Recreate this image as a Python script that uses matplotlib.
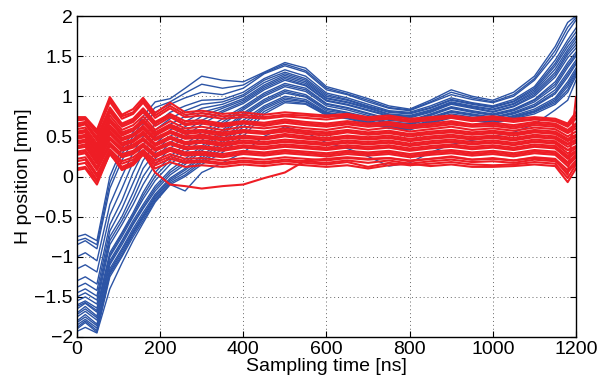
import numpy as np
import matplotlib
matplotlib.use('Agg')
import matplotlib.pyplot as plt

# sampling instants [ns]
t_ns = [0, 20, 48, 79, 108, 135, 159, 188, 224, 260, 300, 350, 400, 450, 500,
        550, 600, 650, 700, 750, 800, 850, 900, 950, 1000, 1050, 1100, 1150, 1180, 1200]

# blue traces (H position [mm])
blue_traces = [
    [-0.75, -0.72, -0.80, 0.00, 0.35, 0.55, 0.75, 0.93, 0.97, 1.10, 1.25, 1.20, 1.18, 1.30, 1.42, 1.35, 1.12, 1.05, 0.97, 0.88, 0.84, 0.95, 1.08, 1.00, 0.95, 1.05, 1.25, 1.62, 1.92, 2.00],
    [-0.80, -0.77, -0.85, -0.08, 0.28, 0.50, 0.70, 0.86, 0.93, 1.04, 1.15, 1.10, 1.14, 1.29, 1.40, 1.32, 1.10, 1.03, 0.95, 0.86, 0.83, 0.93, 1.05, 0.98, 0.93, 1.02, 1.22, 1.57, 1.86, 1.98],
    [-0.85, -0.80, -0.90, -0.15, 0.20, 0.45, 0.65, 0.80, 0.90, 0.98, 1.05, 1.02, 1.10, 1.28, 1.38, 1.30, 1.08, 1.02, 0.93, 0.85, 0.82, 0.92, 1.02, 0.96, 0.92, 1.00, 1.20, 1.52, 1.80, 1.95],
    [-1.00, -0.95, -1.05, -0.35, 0.00, 0.30, 0.50, 0.65, 0.80, 0.88, 0.95, 0.96, 1.05, 1.22, 1.33, 1.25, 1.04, 0.98, 0.90, 0.82, 0.80, 0.88, 0.98, 0.92, 0.88, 0.96, 1.12, 1.45, 1.70, 1.85],
    [-1.15, -1.10, -1.19, -0.48, -0.15, 0.18, 0.40, 0.58, 0.72, 0.82, 0.90, 0.93, 1.02, 1.20, 1.30, 1.22, 1.02, 0.96, 0.88, 0.81, 0.79, 0.86, 0.96, 0.91, 0.87, 0.94, 1.10, 1.41, 1.66, 1.80],
    [-1.30, -1.25, -1.34, -0.60, -0.30, 0.05, 0.30, 0.50, 0.65, 0.75, 0.85, 0.90, 1.00, 1.17, 1.28, 1.20, 1.00, 0.95, 0.87, 0.80, 0.78, 0.85, 0.95, 0.90, 0.86, 0.93, 1.08, 1.38, 1.62, 1.75],
    [-1.38, -1.33, -1.42, -0.68, -0.40, -0.08, 0.20, 0.40, 0.58, 0.68, 0.80, 0.87, 0.97, 1.14, 1.26, 1.18, 0.98, 0.93, 0.86, 0.78, 0.76, 0.83, 0.93, 0.88, 0.84, 0.91, 1.06, 1.34, 1.58, 1.72],
    [-1.45, -1.40, -1.49, -0.75, -0.50, -0.20, 0.10, 0.30, 0.50, 0.62, 0.75, 0.85, 0.95, 1.12, 1.24, 1.16, 0.97, 0.92, 0.85, 0.77, 0.75, 0.82, 0.92, 0.87, 0.83, 0.90, 1.04, 1.30, 1.55, 1.68],
    [-1.50, -1.45, -1.54, -0.80, -0.55, -0.28, 0.00, 0.22, 0.42, 0.56, 0.70, 0.82, 0.93, 1.10, 1.22, 1.14, 0.95, 0.90, 0.83, 0.76, 0.74, 0.81, 0.91, 0.86, 0.81, 0.88, 1.02, 1.27, 1.52, 1.64],
    [-1.55, -1.50, -1.59, -0.85, -0.60, -0.35, -0.10, 0.15, 0.35, 0.50, 0.65, 0.80, 0.91, 1.08, 1.20, 1.13, 0.94, 0.89, 0.82, 0.75, 0.73, 0.80, 0.90, 0.85, 0.80, 0.87, 1.00, 1.24, 1.48, 1.60],
    [-1.60, -1.55, -1.64, -0.95, -0.70, -0.45, -0.20, 0.05, 0.25, 0.40, 0.55, 0.72, 0.87, 1.04, 1.16, 1.10, 0.91, 0.86, 0.79, 0.72, 0.70, 0.78, 0.87, 0.82, 0.78, 0.84, 0.96, 1.18, 1.42, 1.55],
    [-1.62, -1.57, -1.67, -0.98, -0.72, -0.48, -0.24, 0.00, 0.20, 0.35, 0.50, 0.68, 0.85, 1.02, 1.14, 1.08, 0.90, 0.85, 0.78, 0.71, 0.69, 0.77, 0.86, 0.81, 0.77, 0.83, 0.95, 1.15, 1.39, 1.52],
    [-1.65, -1.58, -1.69, -1.00, -0.75, -0.50, -0.28, -0.05, 0.15, 0.30, 0.45, 0.65, 0.83, 1.00, 1.12, 1.06, 0.88, 0.83, 0.76, 0.70, 0.68, 0.76, 0.85, 0.80, 0.76, 0.82, 0.93, 1.12, 1.36, 1.50],
    [-1.70, -1.62, -1.74, -1.05, -0.80, -0.55, -0.35, -0.12, 0.08, 0.22, 0.38, 0.58, 0.79, 0.96, 1.08, 1.02, 0.85, 0.80, 0.74, 0.68, 0.66, 0.74, 0.82, 0.78, 0.74, 0.80, 0.90, 1.08, 1.30, 1.45],
    [-1.72, -1.65, -1.76, -1.08, -0.82, -0.58, -0.38, -0.15, 0.05, 0.18, 0.35, 0.55, 0.77, 0.94, 1.06, 1.00, 0.84, 0.79, 0.73, 0.67, 0.65, 0.73, 0.81, 0.77, 0.73, 0.79, 0.88, 1.05, 1.27, 1.42],
    [-1.75, -1.68, -1.79, -1.10, -0.85, -0.60, -0.40, -0.18, 0.02, 0.15, 0.32, 0.52, 0.75, 0.92, 1.04, 0.99, 0.82, 0.78, 0.72, 0.66, 0.64, 0.72, 0.80, 0.76, 0.72, 0.78, 0.87, 1.03, 1.24, 1.40],
    [-1.80, -1.72, -1.84, -1.15, -0.90, -0.65, -0.45, -0.22, -0.02, 0.10, 0.26, 0.45, 0.70, 0.88, 1.00, 0.96, 0.80, 0.76, 0.70, 0.64, 0.62, 0.70, 0.78, 0.74, 0.70, 0.76, 0.84, 0.98, 1.18, 1.35],
    [-1.82, -1.75, -1.86, -1.18, -0.92, -0.68, -0.48, -0.24, -0.04, 0.08, 0.23, 0.42, 0.66, 0.86, 0.98, 0.94, 0.79, 0.75, 0.69, 0.63, 0.61, 0.69, 0.76, 0.73, 0.69, 0.75, 0.82, 0.96, 1.15, 1.32],
    [-1.85, -1.78, -1.89, -1.20, -0.95, -0.70, -0.50, -0.26, -0.06, 0.05, 0.20, 0.38, 0.62, 0.84, 0.96, 0.93, 0.78, 0.74, 0.68, 0.62, 0.60, 0.68, 0.75, 0.72, 0.68, 0.74, 0.81, 0.94, 1.12, 1.30],
    [-1.88, -1.80, -1.92, -1.22, -0.98, -0.72, -0.52, -0.28, -0.08, 0.02, 0.18, 0.34, 0.56, 0.81, 0.94, 0.91, 0.77, 0.73, 0.67, 0.61, 0.59, 0.67, 0.74, 0.71, 0.67, 0.73, 0.80, 0.92, 1.08, 1.28],
    [-1.90, -1.82, -1.94, -1.25, -1.00, -0.75, -0.55, -0.30, -0.10, 0.00, 0.15, 0.30, 0.50, 0.78, 0.92, 0.90, 0.76, 0.72, 0.66, 0.60, 0.58, 0.66, 0.73, 0.70, 0.66, 0.72, 0.78, 0.90, 1.05, 1.25],
    [-1.93, -1.88, -1.95, -1.40, -1.08, -0.80, -0.58, -0.32, -0.10, -0.18, 0.05, 0.17, 0.30, 0.50, 0.62, 0.55, 0.42, 0.35, 0.25, 0.13, 0.17, 0.30, 0.40, 0.45, 0.50, 0.55, 0.65, 0.83, 0.95, 1.20],
]

# red traces (H position [mm])
red_traces = [
    [0.74, 0.74, 0.58, 0.99, 0.77, 0.84, 0.98, 0.79, 0.92, 0.80, 0.82, 0.78, 0.80, 0.77, 0.80, 0.78, 0.76, 0.78, 0.74, 0.76, 0.72, 0.74, 0.76, 0.73, 0.75, 0.72, 0.74, 0.72, 0.66, 0.80],
    [0.72, 0.73, 0.56, 0.96, 0.75, 0.80, 0.95, 0.76, 0.88, 0.77, 0.79, 0.75, 0.77, 0.74, 0.77, 0.76, 0.74, 0.76, 0.72, 0.74, 0.70, 0.72, 0.75, 0.71, 0.73, 0.70, 0.72, 0.70, 0.64, 0.76],
    [0.70, 0.71, 0.53, 0.93, 0.72, 0.78, 0.92, 0.73, 0.85, 0.74, 0.76, 0.72, 0.74, 0.72, 0.75, 0.73, 0.71, 0.74, 0.70, 0.72, 0.68, 0.70, 0.73, 0.69, 0.71, 0.68, 0.71, 0.69, 0.62, 0.72],
    [0.66, 0.68, 0.49, 0.86, 0.66, 0.72, 0.85, 0.68, 0.78, 0.69, 0.70, 0.66, 0.69, 0.67, 0.71, 0.68, 0.66, 0.69, 0.66, 0.68, 0.64, 0.66, 0.69, 0.65, 0.67, 0.64, 0.68, 0.66, 0.58, 0.66],
    [0.64, 0.66, 0.47, 0.83, 0.64, 0.70, 0.82, 0.66, 0.76, 0.66, 0.68, 0.64, 0.67, 0.65, 0.69, 0.66, 0.64, 0.67, 0.64, 0.66, 0.62, 0.64, 0.67, 0.64, 0.65, 0.62, 0.66, 0.64, 0.56, 0.63],
    [0.62, 0.65, 0.45, 0.80, 0.62, 0.68, 0.80, 0.63, 0.74, 0.64, 0.66, 0.62, 0.66, 0.63, 0.67, 0.64, 0.62, 0.65, 0.62, 0.64, 0.60, 0.62, 0.65, 0.62, 0.63, 0.60, 0.64, 0.62, 0.54, 0.60],
    [0.59, 0.61, 0.41, 0.76, 0.58, 0.64, 0.75, 0.58, 0.69, 0.60, 0.62, 0.58, 0.62, 0.60, 0.63, 0.60, 0.58, 0.62, 0.58, 0.61, 0.56, 0.59, 0.62, 0.58, 0.60, 0.57, 0.61, 0.59, 0.50, 0.56],
    [0.56, 0.58, 0.38, 0.72, 0.55, 0.60, 0.71, 0.55, 0.65, 0.57, 0.58, 0.55, 0.58, 0.56, 0.60, 0.57, 0.55, 0.58, 0.55, 0.57, 0.53, 0.56, 0.58, 0.55, 0.57, 0.54, 0.58, 0.56, 0.47, 0.52],
    [0.55, 0.56, 0.36, 0.70, 0.53, 0.58, 0.69, 0.53, 0.63, 0.55, 0.57, 0.53, 0.56, 0.54, 0.58, 0.55, 0.53, 0.56, 0.53, 0.55, 0.52, 0.54, 0.56, 0.53, 0.55, 0.53, 0.56, 0.54, 0.45, 0.50],
    [0.53, 0.55, 0.35, 0.68, 0.51, 0.57, 0.67, 0.51, 0.61, 0.53, 0.55, 0.51, 0.55, 0.53, 0.56, 0.53, 0.51, 0.55, 0.52, 0.54, 0.50, 0.53, 0.55, 0.52, 0.54, 0.51, 0.55, 0.53, 0.44, 0.49],
    [0.50, 0.52, 0.32, 0.64, 0.48, 0.53, 0.63, 0.48, 0.57, 0.50, 0.52, 0.48, 0.51, 0.49, 0.53, 0.50, 0.48, 0.51, 0.49, 0.51, 0.47, 0.50, 0.52, 0.49, 0.51, 0.48, 0.52, 0.50, 0.41, 0.46],
    [0.49, 0.50, 0.30, 0.62, 0.46, 0.51, 0.61, 0.46, 0.55, 0.48, 0.50, 0.46, 0.49, 0.47, 0.51, 0.48, 0.46, 0.50, 0.47, 0.49, 0.45, 0.48, 0.50, 0.47, 0.49, 0.46, 0.50, 0.48, 0.40, 0.44],
    [0.47, 0.49, 0.29, 0.60, 0.45, 0.50, 0.59, 0.45, 0.54, 0.47, 0.48, 0.45, 0.48, 0.46, 0.50, 0.47, 0.45, 0.48, 0.46, 0.48, 0.44, 0.47, 0.49, 0.46, 0.48, 0.45, 0.49, 0.47, 0.37, 0.42],
    [0.44, 0.46, 0.26, 0.57, 0.42, 0.46, 0.56, 0.41, 0.50, 0.43, 0.45, 0.42, 0.45, 0.43, 0.46, 0.44, 0.42, 0.45, 0.43, 0.45, 0.41, 0.44, 0.46, 0.43, 0.45, 0.42, 0.46, 0.44, 0.33, 0.38],
    [0.43, 0.44, 0.24, 0.55, 0.40, 0.44, 0.54, 0.39, 0.48, 0.41, 0.43, 0.40, 0.43, 0.41, 0.44, 0.42, 0.40, 0.43, 0.41, 0.43, 0.39, 0.42, 0.44, 0.41, 0.43, 0.40, 0.44, 0.42, 0.33, 0.36],
    [0.41, 0.43, 0.22, 0.53, 0.38, 0.43, 0.52, 0.38, 0.47, 0.40, 0.42, 0.38, 0.42, 0.40, 0.43, 0.41, 0.39, 0.42, 0.40, 0.42, 0.38, 0.41, 0.43, 0.40, 0.42, 0.39, 0.43, 0.41, 0.29, 0.35],
    [0.38, 0.40, 0.19, 0.49, 0.35, 0.40, 0.48, 0.35, 0.43, 0.37, 0.38, 0.35, 0.39, 0.37, 0.40, 0.38, 0.36, 0.39, 0.37, 0.39, 0.35, 0.38, 0.40, 0.37, 0.39, 0.36, 0.40, 0.38, 0.26, 0.32],
    [0.36, 0.38, 0.17, 0.47, 0.33, 0.38, 0.46, 0.33, 0.41, 0.35, 0.36, 0.33, 0.37, 0.35, 0.38, 0.36, 0.34, 0.37, 0.35, 0.37, 0.33, 0.36, 0.38, 0.35, 0.37, 0.34, 0.38, 0.36, 0.24, 0.31],
    [0.35, 0.37, 0.16, 0.46, 0.32, 0.36, 0.45, 0.32, 0.40, 0.34, 0.35, 0.32, 0.36, 0.34, 0.37, 0.35, 0.33, 0.36, 0.34, 0.36, 0.32, 0.35, 0.37, 0.34, 0.36, 0.33, 0.37, 0.35, 0.22, 0.30],
    [0.31, 0.33, 0.12, 0.42, 0.28, 0.32, 0.41, 0.28, 0.36, 0.30, 0.31, 0.28, 0.32, 0.30, 0.33, 0.31, 0.29, 0.32, 0.30, 0.32, 0.28, 0.31, 0.33, 0.30, 0.32, 0.29, 0.33, 0.31, 0.18, 0.27],
    [0.29, 0.31, 0.10, 0.40, 0.26, 0.30, 0.39, 0.26, 0.34, 0.28, 0.29, 0.26, 0.30, 0.28, 0.31, 0.29, 0.27, 0.30, 0.28, 0.30, 0.26, 0.29, 0.31, 0.28, 0.30, 0.27, 0.31, 0.29, 0.16, 0.25],
    [0.27, 0.29, 0.08, 0.38, 0.24, 0.28, 0.37, 0.24, 0.32, 0.26, 0.27, 0.24, 0.28, 0.26, 0.29, 0.27, 0.25, 0.28, 0.26, 0.28, 0.24, 0.27, 0.29, 0.26, 0.28, 0.25, 0.29, 0.27, 0.13, 0.24],
    [0.22, 0.24, 0.03, 0.34, 0.19, 0.24, 0.33, 0.20, 0.28, 0.22, 0.23, 0.20, 0.23, 0.21, 0.24, 0.22, 0.20, 0.23, 0.21, 0.23, 0.19, 0.22, 0.24, 0.21, 0.23, 0.20, 0.24, 0.22, 0.08, 0.20],
    [0.19, 0.21, 0.00, 0.32, 0.16, 0.21, 0.31, 0.17, 0.25, 0.19, 0.20, 0.17, 0.20, 0.18, 0.21, 0.19, 0.17, 0.20, 0.17, 0.20, 0.16, 0.19, 0.21, 0.18, 0.19, 0.17, 0.21, 0.19, 0.05, 0.17],
    [0.15, 0.17, -0.04, 0.30, 0.12, 0.18, 0.29, 0.14, 0.22, 0.17, 0.18, 0.15, 0.18, 0.16, 0.19, 0.17, 0.15, 0.18, 0.12, 0.17, 0.14, 0.16, 0.18, 0.15, 0.14, 0.15, 0.18, 0.16, -0.02, 0.15],
    [0.08, 0.10, -0.10, 0.29, 0.08, 0.14, 0.27, 0.10, 0.18, 0.12, 0.14, 0.12, 0.15, 0.13, 0.16, 0.14, 0.12, 0.14, 0.10, 0.14, 0.16, 0.13, 0.15, 0.12, 0.12, 0.13, 0.15, 0.13, -0.07, 0.10],
    [0.10, 0.12, -0.06, 0.28, 0.10, 0.16, 0.29, 0.05, -0.10, -0.12, -0.15, -0.12, -0.10, -0.02, 0.05, 0.20, 0.22, 0.24, 0.22, 0.23, 0.20, 0.22, 0.25, 0.21, 0.22, 0.20, 0.23, 0.21, 0.02, 0.99],
]

xticks = [0, 200, 400, 600, 800, 1000, 1200]
yticks = [-2, -1.5, -1, -0.5, 0, 0.5, 1, 1.5, 2]
ytick_labels = ['\u22122', '\u22121.5', '\u22121', '\u22120.5', '0', '0.5', '1', '1.5', '2']

plt.rcParams['font.family'] = ['Liberation Sans', 'DejaVu Sans']

fig = plt.figure(figsize=(5.99, 3.84), dpi=100)
ax = fig.add_axes([0.1285, 0.1224, 0.8331, 0.8359])

for tr in blue_traces:
    ax.plot(t_ns, tr, color='#2C54A5', lw=1.0)
for tr in red_traces:
    ax.plot(t_ns, tr, color='#EE1D25', lw=1.5)

ax.set_xlim(0, 1200)
ax.set_ylim(-2, 2)
ax.set_xticks(xticks)
ax.set_xticklabels([str(v) for v in xticks])
ax.set_yticks(yticks)
ax.set_yticklabels(ytick_labels)
ax.grid(True, linestyle=(0, (1, 3)), color='#666666', lw=0.7)
ax.tick_params(direction='in', top=True, right=True, labelsize=14, length=4, width=0.8, pad=3)
for s in ax.spines.values():
    s.set_linewidth(1.0)
ax.set_xlabel('Sampling time [ns]', fontsize=14, labelpad=0)
ax.set_ylabel('H position [mm]', fontsize=14, labelpad=2)

fig.savefig('out.png', dpi=100)
